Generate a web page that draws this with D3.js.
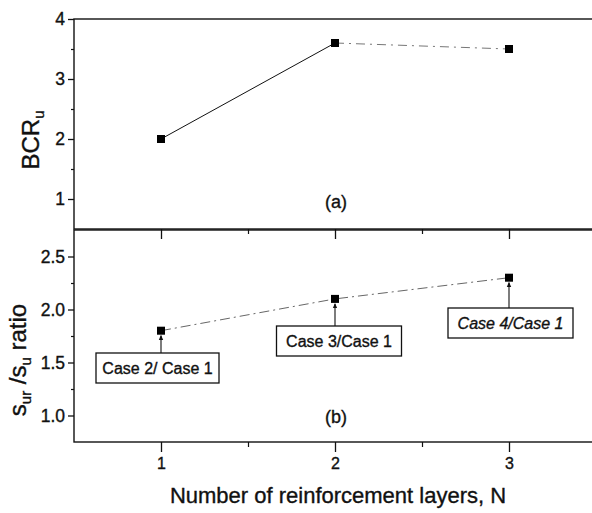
<!DOCTYPE html>
<html>
<head>
<meta charset="utf-8">
<script src="https://cdn.jsdelivr.net/npm/d3@7"></script>
<style>
  html, body { margin: 0; padding: 0; background: #fff; }
  svg text { stroke: #111; stroke-width: 0.35px; }
</style>
</head>
<body>
<svg id="chart" width="592" height="513" font-family="'Liberation Sans', Arial, sans-serif"></svg>
<script>
// Number of reinforcement layers
const layers = [1, 2, 3];
// (a) bearing capacity ratio BCR_u
const bcrValues = [2.0, 3.6, 3.5];
// (b) settlement ratio s_ur / s_u
const settleRatio = [1.8, 2.1, 2.3];
// Case labels attached to the settlement-ratio points
const caseLabels = ["Case 2/ Case 1", "Case 3/Case 1", "Case 4/Case 1"];
// Tick values
const xTicks = [1, 2, 3];
const xMinor = [1.5, 2.5];
const yTicksA = [1, 2, 3, 4];
const yMinorA = [1.5, 2.5, 3.5];
const yTicksB = [1.0, 1.5, 2.0, 2.5];
const yMinorB = [1.25, 1.75, 2.25];

const FONT = "'Liberation Sans', Arial, sans-serif";
const svg = d3.select("#chart");
const ink = "#111";

const x = d3.scaleLinear().domain([0.5, 3.5]).range([74, 596]);
const yA = d3.scaleLinear().domain([0.5, 4]).range([229, 19]);
const yB = d3.scaleLinear().domain([0.75, 2.75]).range([442, 230]);

// frames
function frame(y) {
  svg.append("rect")
    .attr("x", x.range()[0]).attr("y", y.range()[1])
    .attr("width", x.range()[1] - x.range()[0])
    .attr("height", y.range()[0] - y.range()[1])
    .attr("fill", "none").attr("stroke", ink).attr("stroke-width", 1.4);
}
frame(yA);
frame(yB);

// y axes (ticks outward, to the left)
function yAxis(y, major, minor, fmt) {
  const g = svg.append("g").attr("transform", `translate(${x.range()[0]},0)`);
  g.call(d3.axisLeft(y).tickValues(major).tickSize(6).tickPadding(3).tickFormat(fmt));
  g.attr("font-family", FONT).attr("font-size", 17.5);
  g.select(".domain").remove();
  g.selectAll("line").attr("stroke", ink).attr("stroke-width", 1.3);
  g.selectAll("text").attr("fill", ink);
  const m = svg.append("g").attr("transform", `translate(${x.range()[0]},0)`);
  m.call(d3.axisLeft(y).tickValues(minor).tickSize(3).tickFormat(""));
  m.select(".domain").remove();
  m.selectAll("line").attr("stroke", ink).attr("stroke-width", 1.2);
}
yAxis(yA, yTicksA, yMinorA, d3.format("d"));
yAxis(yB, yTicksB, yMinorB, d3.format(".1f"));

// x axes (ticks outward, downward) below each panel
function xAxis(yPos, labels) {
  const g = svg.append("g").attr("transform", `translate(0,${yPos})`);
  g.call(d3.axisBottom(x).tickValues(xTicks).tickSize(10).tickPadding(6)
    .tickFormat(labels ? d3.format("d") : ""));
  g.attr("font-family", FONT).attr("font-size", 16);
  g.select(".domain").remove();
  g.selectAll("line").attr("stroke", ink).attr("stroke-width", 1.3);
  g.selectAll("text").attr("fill", ink);
  const m = svg.append("g").attr("transform", `translate(0,${yPos})`);
  m.call(d3.axisBottom(x).tickValues(xMinor).tickSize(5).tickFormat(""));
  m.select(".domain").remove();
  m.selectAll("line").attr("stroke", ink).attr("stroke-width", 1.2);
}
xAxis(yA.range()[0], false);
xAxis(yB.range()[0], true);

// (a) series: solid from N=1 to 2, faint dash-dot from 2 to 3
const ptsA = layers.map((n, i) => [x(n), yA(bcrValues[i])]);
const line = d3.line();
svg.append("path").attr("d", line(ptsA.slice(0, 2)))
  .attr("fill", "none").attr("stroke", ink).attr("stroke-width", 1);
svg.append("path").attr("d", line(ptsA.slice(1)))
  .attr("fill", "none").attr("stroke", "#666").attr("stroke-width", 0.9)
  .attr("stroke-dasharray", "9,5,2,5");
svg.selectAll("rect.mA").data(ptsA).join("rect")
  .attr("x", d => d[0] - 4).attr("y", d => d[1] - 4)
  .attr("width", 8).attr("height", 8).attr("fill", "#000");

// (b) series: dash-dot line
const ptsB = layers.map((n, i) => [x(n), yB(settleRatio[i])]);
svg.append("path").attr("d", line(ptsB))
  .attr("fill", "none").attr("stroke", "#555").attr("stroke-width", 0.9)
  .attr("stroke-dasharray", "10,4,2,4");
svg.selectAll("rect.mB").data(ptsB).join("rect")
  .attr("x", d => d[0] - 4).attr("y", d => d[1] - 4)
  .attr("width", 8).attr("height", 8).attr("fill", "#000");

// annotation boxes with arrows up to the points
const boxes = [
  { dx: -65, top: 353, w: 123, h: 30, italic: false },
  { dx: -58.5, top: 326, w: 125, h: 30, italic: false },
  { dx: -61, top: 308, w: 125, h: 30, italic: true }
];
svg.append("defs").append("marker")
  .attr("id", "arr").attr("viewBox", "0 0 6 6").attr("refX", 5).attr("refY", 3)
  .attr("markerWidth", 5).attr("markerHeight", 6).attr("orient", "auto")
  .append("path").attr("d", "M0,0.5L6,3L0,5.5Z").attr("fill", ink);
ptsB.forEach((p, i) => {
  const b = boxes[i];
  svg.append("line")
    .attr("x1", p[0]).attr("x2", p[0])
    .attr("y1", b.top).attr("y2", p[1] + 5)
    .attr("stroke", ink).attr("stroke-width", 1.1)
    .attr("marker-end", "url(#arr)");
  svg.append("rect")
    .attr("x", p[0] + b.dx).attr("y", b.top).attr("width", b.w).attr("height", b.h)
    .attr("fill", "#fff").attr("stroke", ink).attr("stroke-width", 1.3);
  svg.append("text")
    .attr("x", p[0] + b.dx + b.w / 2).attr("y", b.top + b.h / 2 + 5.5)
    .attr("text-anchor", "middle").attr("font-size", 16)
    .attr("font-style", b.italic ? "italic" : "normal").attr("fill", ink)
    .text(caseLabels[i]);
});

// panel labels
svg.append("text").attr("x", x(2) + 1).attr("y", 208).attr("text-anchor", "middle")
  .attr("font-size", 18).attr("fill", ink).text("(a)");
svg.append("text").attr("x", x(2) + 1).attr("y", 423).attr("text-anchor", "middle")
  .attr("font-size", 18).attr("fill", ink).text("(b)");

// axis titles
const tA = svg.append("text")
  .attr("transform", "translate(39,140) rotate(-90)")
  .attr("text-anchor", "middle").attr("font-size", 24).attr("fill", ink);
tA.append("tspan").text("BCR");
tA.append("tspan").attr("font-size", 15).attr("dy", 5).text("u");

const tB = svg.append("text")
  .attr("transform", "translate(26,360) rotate(-90)")
  .attr("text-anchor", "middle").attr("font-size", 24).attr("fill", ink);
tB.append("tspan").text("s");
tB.append("tspan").attr("font-size", 15).attr("dy", 5).text("ur");
tB.append("tspan").attr("dy", -5).text(" /s");
tB.append("tspan").attr("font-size", 15).attr("dy", 5).text("u");
tB.append("tspan").attr("dy", -5).text(" ratio");

svg.append("text").attr("x", 338).attr("y", 503).attr("text-anchor", "middle")
  .attr("font-size", 22).attr("fill", ink).text("Number of reinforcement layers, N");
</script>
</body>
</html>
